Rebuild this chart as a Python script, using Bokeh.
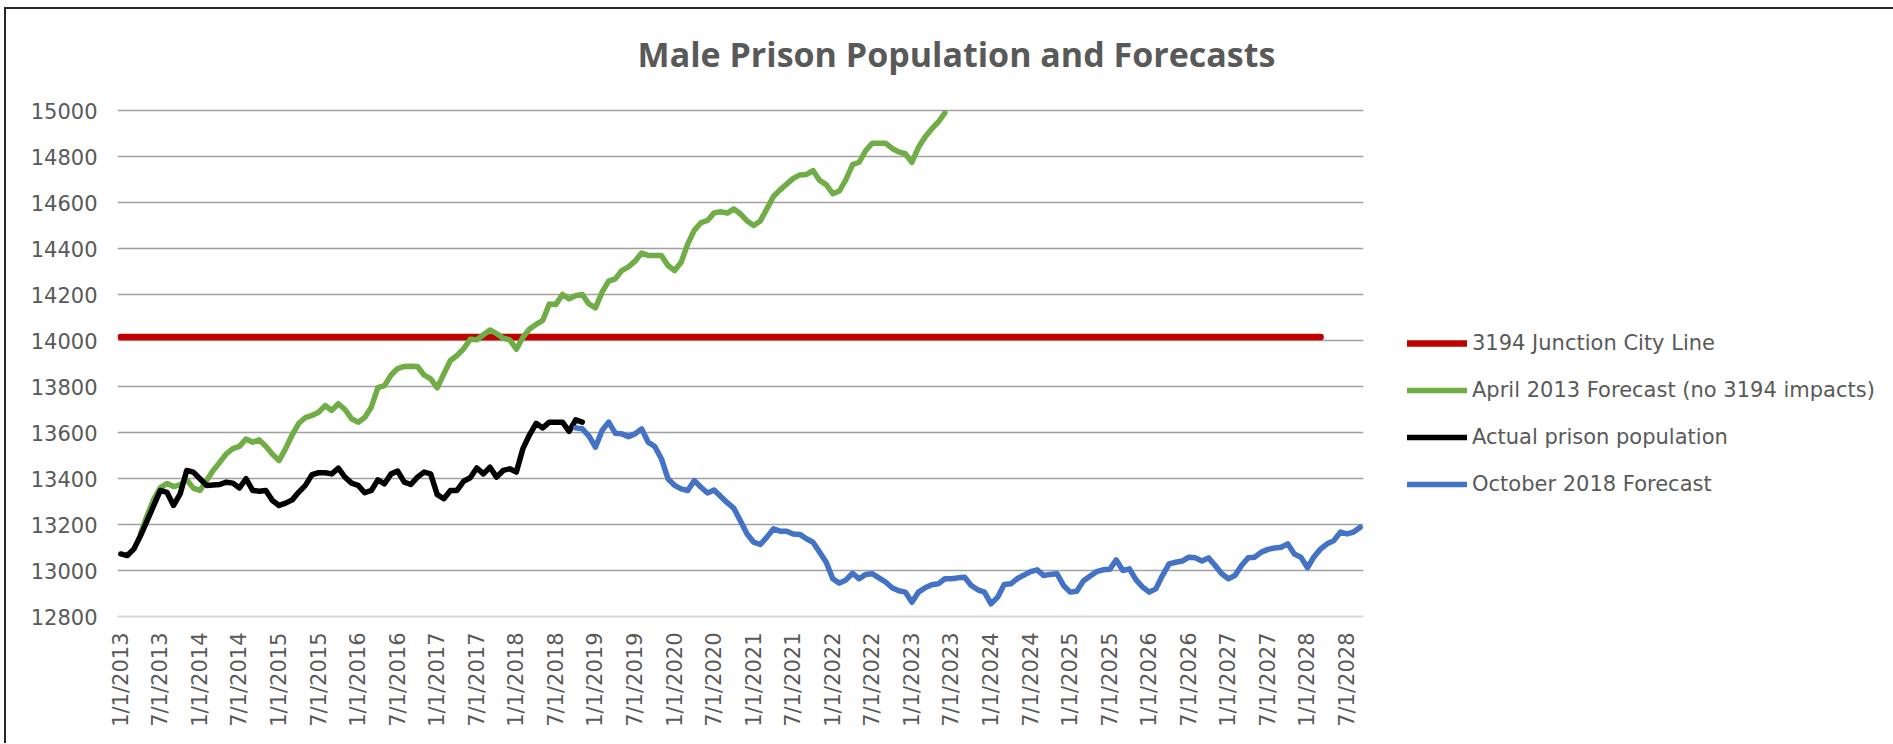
from bokeh.plotting import figure
from bokeh.models import (Range1d, FixedTicker, Legend, LegendItem, Label)
from bokeh.embed import file_html
from bokeh.resources import INLINE

# ---------------- data ----------------
TITLE = "Male Prison Population and Forecasts"
TICK_LABELS = ["1/1/2013", "7/1/2013", "1/1/2014", "7/1/2014", "1/1/2015", "7/1/2015",
               "1/1/2016", "7/1/2016", "1/1/2017", "7/1/2017", "1/1/2018", "7/1/2018",
               "1/1/2019", "7/1/2019", "1/1/2020", "7/1/2020", "1/1/2021", "7/1/2021",
               "1/1/2022", "7/1/2022", "1/1/2023", "7/1/2023", "1/1/2024", "7/1/2024",
               "1/1/2025", "7/1/2025", "1/1/2026", "7/1/2026", "1/1/2027", "7/1/2027",
               "1/1/2028", "7/1/2028"]
N_MONTHS = 189  # Jan 2013 .. Sep 2028

SERIES_NAMES = ["3194 Junction City Line", "April 2013 Forecast (no 3194 impacts)",
                "Actual prison population", "October 2018 Forecast"]

JUNCTION_LEVEL = 14015
JUNCTION_START, JUNCTION_END = 0, 182

ACTUAL_START = 0
ACTUAL = [13072, 13065, 13094, 13152, 13217, 13283, 13348, 13340, 13283, 13333,
          13435, 13428, 13399, 13370, 13372, 13374, 13384, 13380, 13359, 13399,
          13348, 13345, 13348, 13304, 13283, 13293, 13307, 13341, 13370, 13417,
          13425, 13425, 13420, 13445, 13406, 13380, 13370, 13338, 13348, 13394,
          13377, 13420, 13432, 13384, 13374, 13406, 13428, 13420, 13330, 13312,
          13348, 13348, 13388, 13403, 13446, 13420, 13449, 13406, 13435, 13442,
          13428, 13530, 13590, 13640, 13620, 13645, 13645, 13645, 13605, 13655,
          13645]

APRIL2013_START = 3
APRIL2013 = [13160, 13240, 13310, 13360, 13378, 13365, 13372, 13395, 13358, 13348,
             13390, 13435, 13470, 13507, 13530, 13540, 13572, 13558, 13568, 13540,
             13505, 13478, 13530, 13590, 13640, 13665, 13674, 13688, 13717, 13696,
             13725, 13700, 13660, 13645, 13665, 13710, 13795, 13804, 13850, 13878,
             13887, 13888, 13887, 13850, 13833, 13794, 13855, 13913, 13935, 13964,
             14005, 14003, 14025, 14046, 14030, 14010, 14003, 13962, 14014, 14050,
             14070, 14087, 14159, 14157, 14200, 14181, 14195, 14200, 14159, 14142,
             14210, 14258, 14268, 14304, 14320, 14345, 14380, 14370, 14370, 14370,
             14326, 14304, 14340, 14420, 14480, 14512, 14522, 14555, 14560, 14554,
             14572, 14550, 14520, 14500, 14520, 14572, 14626, 14655, 14680, 14705,
             14720, 14722, 14739, 14696, 14678, 14638, 14650, 14700, 14765, 14775,
             14826, 14858, 14858, 14858, 14835, 14820, 14812, 14775, 14840, 14885,
             14920, 14950, 14990]

OCT2018_START = 69
OCT2018 = [13620, 13616, 13585, 13536, 13609, 13645, 13597, 13594, 13582, 13594,
           13616, 13558, 13539, 13486, 13399, 13370, 13355, 13348, 13391, 13362,
           13337, 13350, 13322, 13295, 13270, 13215, 13159, 13123, 13113, 13145,
           13181, 13171, 13171, 13159, 13157, 13138, 13123, 13080, 13036, 12964,
           12945, 12959, 12988, 12964, 12983, 12986, 12968, 12950, 12925, 12912,
           12906, 12862, 12906, 12925, 12938, 12942, 12964, 12964, 12968, 12971,
           12935, 12916, 12906, 12855, 12884, 12939, 12942, 12965, 12980, 12995,
           13003, 12978, 12983, 12986, 12935, 12906, 12910, 12954, 12975, 12995,
           13003, 13005, 13046, 13000, 13007, 12959, 12928, 12906, 12920, 12978,
           13029, 13036, 13041, 13058, 13055, 13041, 13055, 13022, 12986, 12964,
           12978, 13022, 13055, 13058, 13080, 13092, 13098, 13101, 13116, 13072,
           13058, 13012, 13060, 13094, 13116, 13130, 13167, 13159, 13167, 13188]

Y_MIN, Y_MAX, Y_STEP = 12800, 15000, 200

COLORS = ["#C00000", "#70AD47", "#000000", "#4472C4"]
TEXT_COLOR = "#595959"
FONT = "DejaVu Sans"

# ---------------- layout (pixels) ----------------
PLOT_W, PLOT_H = 1246, 506        # gridded plot area
HEADROOM = 101                    # space above the top gridline for the title
FRAME_H = PLOT_H + HEADROOM
# extend the value range upward so the title sits inside the frame
y_top = Y_MAX + (Y_MAX - Y_MIN) * HEADROOM / PLOT_H

p = figure(width=1878, height=734, output_backend="svg", toolbar_location=None,
           x_range=Range1d(-0.5, N_MONTHS - 0.5), y_range=Range1d(Y_MIN, y_top),
           min_border_left=111, min_border_right=521, min_border_top=0,
           min_border_bottom=127, frame_width=PLOT_W, frame_height=FRAME_H)
p.outline_line_color = None
p.background_fill_color = "white"
p.border_fill_color = "white"
p.styles = {"margin-left": "4px", "margin-top": "7px",
            "border-top": "2px solid #262626", "border-left": "2px solid #262626",
            "border-right": "2px solid #262626"}

ticks_y = list(range(Y_MIN, Y_MAX + 1, Y_STEP))
p.yaxis.ticker = FixedTicker(ticks=ticks_y)
p.ygrid.ticker = FixedTicker(ticks=ticks_y[1:])
p.ygrid.grid_line_color = "#A0A0A0"
p.ygrid.grid_line_width = 1.5
p.xgrid.grid_line_color = None

tick_pos = [6 * k for k in range(len(TICK_LABELS))]
p.xaxis.ticker = FixedTicker(ticks=tick_pos)
p.xaxis.major_label_overrides = {t: lab for t, lab in zip(tick_pos, TICK_LABELS)}
p.xaxis.major_label_orientation = 1.5707963
p.xaxis.axis_line_color = "#D9D9D9"
p.xaxis.axis_line_width = 2
p.yaxis.axis_line_color = None
for ax in (p.xaxis, p.yaxis):
    ax.major_tick_line_color = None
    ax.minor_tick_line_color = None
    ax.major_label_text_font = FONT
    ax.major_label_text_font_size = "21px"
    ax.major_label_text_color = TEXT_COLOR
p.yaxis.major_label_standoff = 14
p.xaxis.major_label_standoff = 10

LW = 5.5
r_red = p.line([JUNCTION_START, JUNCTION_END], [JUNCTION_LEVEL, JUNCTION_LEVEL],
               line_color=COLORS[0], line_width=LW + 1, line_cap="round")
x_g = [APRIL2013_START + k for k in range(len(APRIL2013))]
r_green = p.line(x_g, APRIL2013, line_color=COLORS[1], line_width=LW,
                 line_cap="round", line_join="round")
x_b = [ACTUAL_START + k for k in range(len(ACTUAL))]
r_black = p.line(x_b, ACTUAL, line_color=COLORS[2], line_width=LW,
                 line_cap="round", line_join="round")
x_o = [OCT2018_START + k for k in range(len(OCT2018))]
r_blue = p.line(x_o, OCT2018, line_color=COLORS[3], line_width=LW,
                line_cap="round", line_join="round")

legend = Legend(items=[LegendItem(label=n, renderers=[r]) for n, r in
                       zip(SERIES_NAMES, [r_red, r_green, r_black, r_blue])],
                location=(44, 117))
legend.padding = 0
legend.margin = 0
legend.border_line_color = None
legend.background_fill_alpha = 0
legend.glyph_width = 60
legend.glyph_height = 30
legend.spacing = 17
legend.label_standoff = 5
legend.label_text_font = FONT
legend.label_text_font_size = "21px"
legend.label_text_color = TEXT_COLOR
p.add_layout(legend, "right")

title = Label(x=839, y=563, x_units="screen", y_units="screen", text=TITLE,
              text_align="center", text_baseline="alphabetic",
              text_font="Open Sans", text_font_style="bold",
              text_font_size="34px", text_color=TEXT_COLOR)
p.add_layout(title)

open("out.html", "w").write(file_html(p, INLINE))
